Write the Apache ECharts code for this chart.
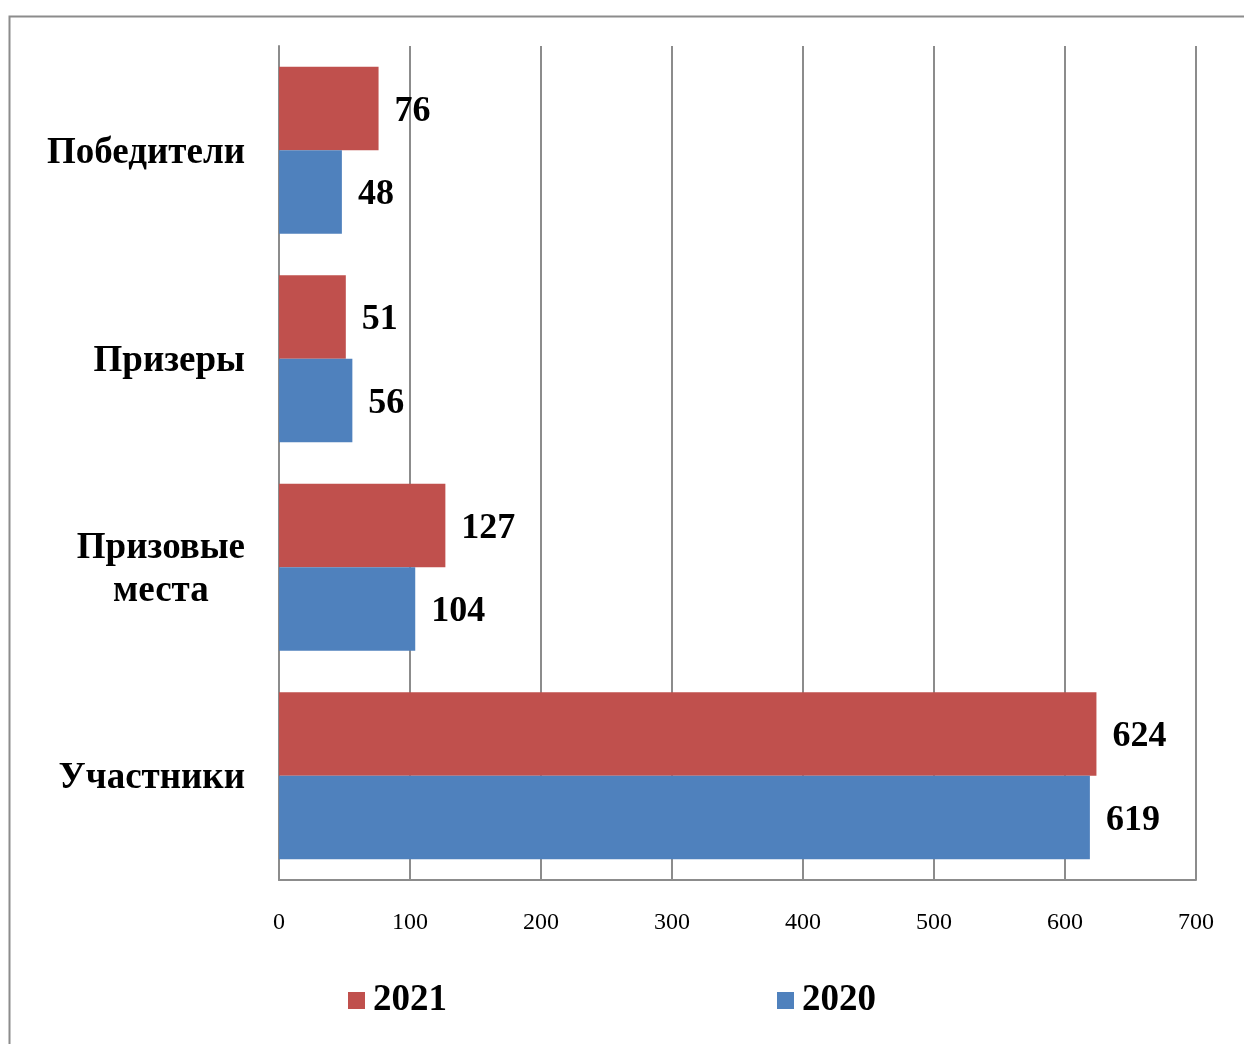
<!DOCTYPE html>
<html>
<head>
<meta charset="utf-8">
<script src="https://cdn.jsdelivr.net/npm/echarts@6/dist/echarts.min.js"></script>
<style>
  html, body { margin: 0; padding: 0; background: #fff; }
  #chart { width: 1244px; height: 1044px; }
</style>
</head>
<body>
<div id="chart"></div>
<script>
// categories listed top to bottom
var categories = ['Победители', 'Призеры', 'Призовые места', 'Участники'];
var values2021 = [76, 51, 127, 624];
var values2020 = [48, 56, 104, 619];
var seriesNames = ['2021', '2020'];
var colors = ['#C0504D', '#4F81BD'];

var FONT = '"Liberation Serif", "Times New Roman", serif';

var chart = echarts.init(document.getElementById('chart'));

var valueLabel = {
  show: true,
  position: 'right',
  distance: 16,
  offset: [0, 3],
  color: '#000',
  fontFamily: FONT,
  fontWeight: 'bold',
  fontSize: 36
};

chart.setOption({
  animation: false,
  color: colors,
  textStyle: { fontFamily: FONT },
  graphic: [
    {
      type: 'rect',
      left: 7, top: 14,
      shape: { width: 1260, height: 1060 },
      style: { fill: 'none', stroke: '#8c8c8c', lineWidth: 2 },
      silent: true
    }
  ],
  grid: { left: 279, right: 48, top: 46, bottom: 164 },
  legend: {
    data: seriesNames,
    left: 343,
    top: 977,
    icon: 'rect',
    itemWidth: 17,
    itemHeight: 17,
    itemGap: 330,
    textStyle: { fontFamily: FONT, fontWeight: 'bold', fontSize: 37, color: '#000', padding: [0, 0, 0, 3] }
  },
  xAxis: {
    type: 'value',
    min: 0,
    max: 700,
    interval: 100,
    axisLine: { show: true, lineStyle: { color: '#8c8c8c', width: 2 } },
    axisTick: { show: false },
    splitLine: { show: true, lineStyle: { color: '#8c8c8c', width: 2 } },
    axisLabel: { color: '#000', fontFamily: FONT, fontSize: 24, margin: 31 }
  },
  yAxis: {
    type: 'category',
    inverse: true,
    data: categories,
    axisLine: { show: true, lineStyle: { color: '#8c8c8c', width: 2 } },
    axisTick: { show: false },
    splitLine: { show: false },
    axisLabel: {
      margin: 34,
      padding: [6, 0, 0, 0],
      color: '#000',
      fontFamily: FONT,
      fontWeight: 'bold',
      fontSize: 37,
      lineHeight: 43,
      formatter: function (v) {
        return v.split(' ').map(function (w) { return '{c|' + w + '}'; }).join('\n');
      },
      rich: {
        c: { align: 'center', fontFamily: FONT, fontWeight: 'bold', fontSize: 37, lineHeight: 43, color: '#000' }
      }
    }
  },
  series: [
    {
      name: seriesNames[0],
      type: 'bar',
      data: values2021,
      barGap: '0%',
      barCategoryGap: '20%',
      label: valueLabel
    },
    {
      name: seriesNames[1],
      type: 'bar',
      data: values2020,
      barGap: '0%',
      barCategoryGap: '20%',
      label: valueLabel
    }
  ]
});
</script>
</body>
</html>
